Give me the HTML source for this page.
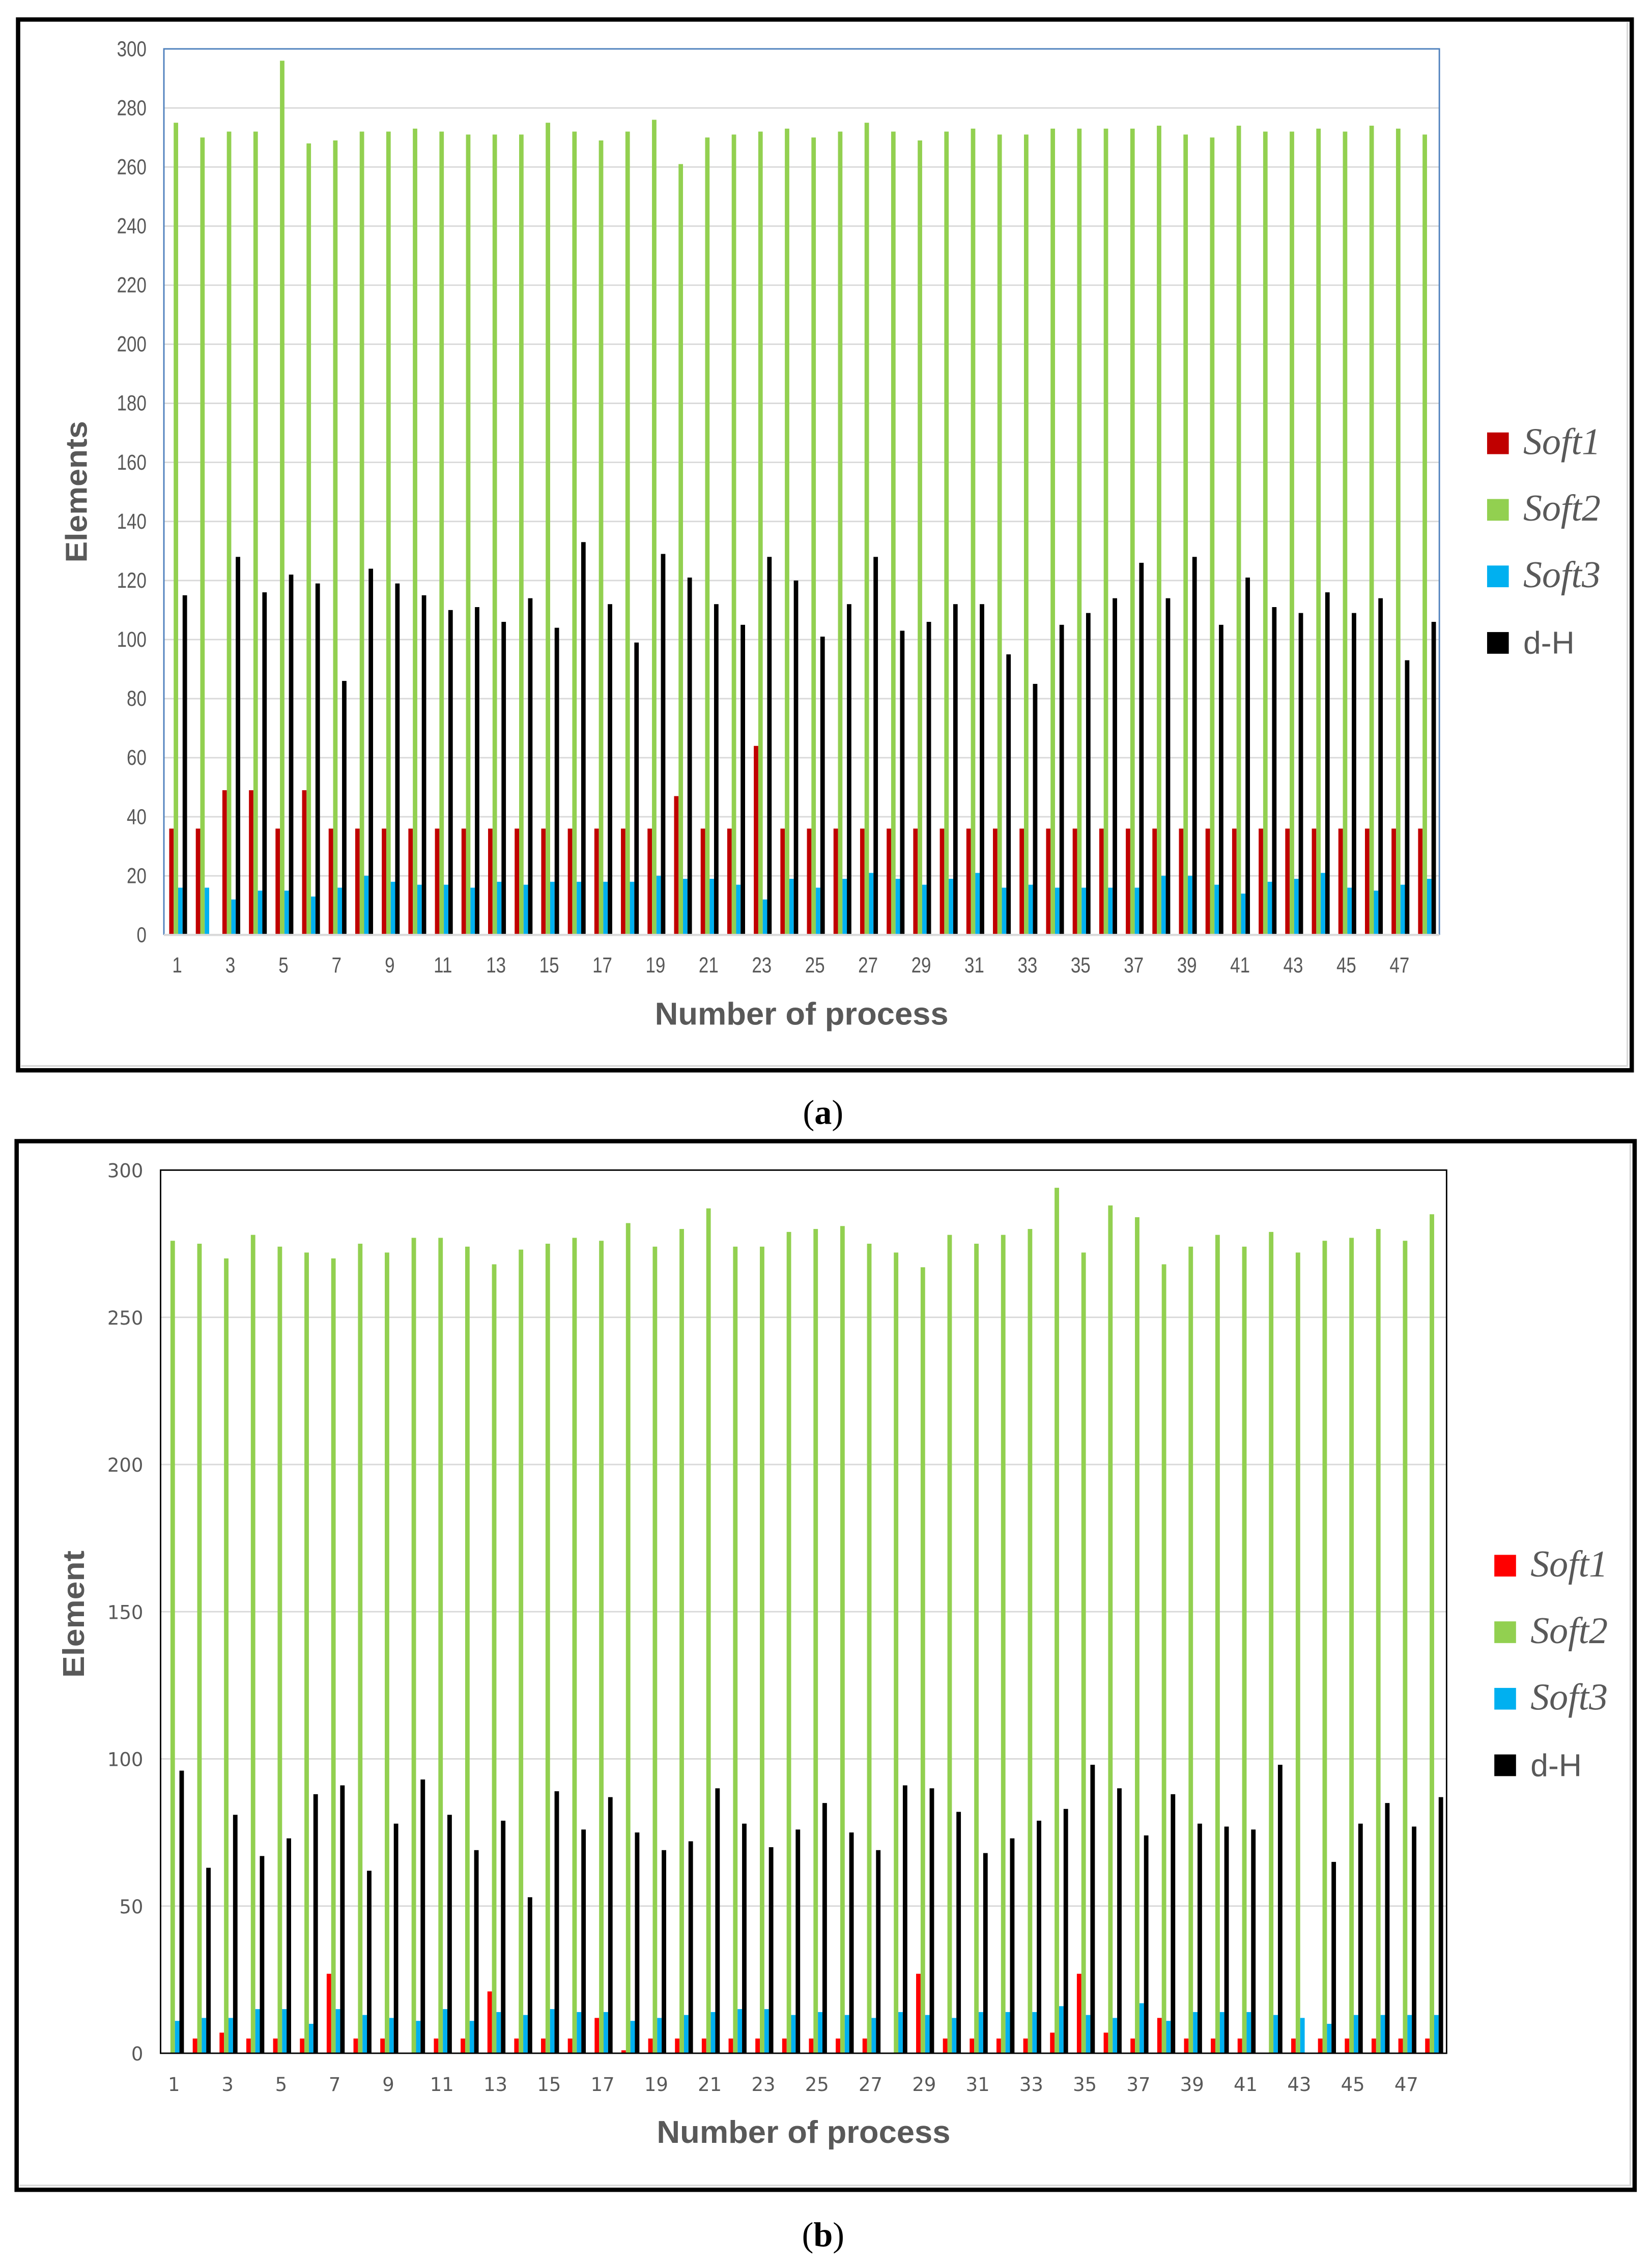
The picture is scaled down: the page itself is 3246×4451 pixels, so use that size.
<!DOCTYPE html>
<html><head><meta charset="utf-8"><style>
html,body{margin:0;padding:0;background:#fff;}
svg{display:block;}
</style></head><body>
<svg id="fig" xmlns="http://www.w3.org/2000/svg" width="3246" height="4451" viewBox="0 0 1142 1566" preserveAspectRatio="none">
<rect x="0" y="0" width="1142" height="1566" fill="#fff"/>
<g id="chartA"></g>
<g id="chartB"></g>
</svg>
<script>
// ---- Chart (a) data ----
const categoriesA = Array.from({length:48},(_,i)=>i+1);
const soft1A = [36,36,49,49,36,49,36,36,36,36,36,36,36,36,36,36,36,36,36,47,36,36,64,36,36,36,36,36,36,36,36,36,36,36,36,36,36,36,36,36,36,36,36,36,36,36,36,36];
const soft2A = [275,270,272,272,296,268,269,272,272,273,272,271,271,271,275,272,269,272,276,261,270,271,272,273,270,272,275,272,269,272,273,271,271,273,273,273,273,274,271,270,274,272,272,273,272,274,273,271];
const soft3A = [16,16,12,15,15,13,16,20,18,17,17,16,18,17,18,18,18,18,20,19,19,17,12,19,16,19,21,19,17,19,21,16,17,16,16,16,16,20,20,17,14,18,19,21,16,15,17,19];
const dhA = [115,0,128,116,122,119,86,124,119,115,110,111,106,114,104,133,112,99,129,121,112,105,128,120,101,112,128,103,106,112,112,95,85,105,109,114,126,114,128,105,121,111,109,116,109,114,93,106];
const yTicksA = [0,20,40,60,80,100,120,140,160,180,200,220,240,260,280,300];
// ---- Chart (b) data ----
const categoriesB = Array.from({length:48},(_,i)=>i+1);
const soft1B = [0,5,7,5,5,5,27,5,5,0,5,5,21,5,5,5,12,1,5,5,5,5,5,5,5,5,5,0,27,5,5,5,5,7,27,7,5,12,5,5,5,0,5,5,5,5,5,5];
const soft2B = [276,275,270,278,274,272,270,275,272,277,277,274,268,273,275,277,276,282,274,280,287,274,274,279,280,281,275,272,267,278,275,278,280,294,272,288,284,268,274,278,274,279,272,276,277,280,276,285];
const soft3B = [11,12,12,15,15,10,15,13,12,11,15,11,14,13,15,14,14,11,12,13,14,15,15,13,14,13,12,14,13,12,14,14,14,16,13,12,17,11,14,14,14,13,12,10,13,13,13,13];
const dhB = [96,63,81,67,73,88,91,62,78,93,81,69,79,53,89,76,87,75,69,72,90,78,70,76,85,75,69,91,90,82,68,73,79,83,98,90,74,88,78,77,76,98,0,65,78,85,77,87];
const yTicksB = [0,50,100,150,200,250,300];
const seriesNames = ["Soft1","Soft2","Soft3","d-H"];

const NS="http://www.w3.org/2000/svg";
function mk(parent,tag,attrs,text){const e=document.createElementNS(NS,tag);for(const k in attrs)e.setAttribute(k,attrs[k]);if(text!==undefined)e.textContent=text;parent.appendChild(e);return e;}

function drawChart(g,cfg){
  const {frame,plot,ymax,ticks,cats,series,colors,ytitle,legendY,legendX,caption,plotBorder,tickFont} = cfg;
  const fr = mk(g,'rect',{x:frame[0],y:frame[1],width:frame[2]-frame[0],height:frame[3]-frame[1],fill:'none',stroke:'#000','stroke-width':3});
  
  
  const inner = mk(g,'polyline',{points:`${frame[2]-3},${frame[1]+2} ${frame[2]-3},${frame[3]-3} ${frame[0]+2},${frame[3]-3}`,fill:'none',stroke:'#d9d9d9','stroke-width':1.2});
  
  
  const [L,T,R,B] = plot;
  const yS = v => B - (v/ymax)*(B-T);
  const cw = (R-L)/cats.length;
  const xC = i => L + i*cw;
  // gridlines & y tick labels
  ticks.forEach(t=>{
    if(t>0 && t<ymax){
      const gl = mk(g,'line',{x1:L,x2:R,y1:yS(t),y2:yS(t),stroke:'#d9d9d9','stroke-width':1});
      
      
    }
    const tl = mk(g,'text',{x:L-12,y:yS(t)+5,'text-anchor':'end','font-family':tickFont.family,'font-size':tickFont.size,fill:'#595959',transform:tickFont.sx?`translate(${L-12},0) scale(${tickFont.sx},1) translate(${-(L-12)},0)`:''},String(t));
    
    
  });
  // bars
  const bw = cw*0.168, off = cw*0.2;
  series.forEach((vals,s)=>{
    vals.forEach((v,i)=>{
      if(v<=0) return;
      const r = mk(g,'rect',{x:xC(i)+off+s*bw,y:yS(v),width:bw,height:B-yS(v),fill:colors[s]});
      
      
    });
  });
  // axes/border
  if(plotBorder==='blue'){
    const pb = mk(g,'polyline',{points:`${L},${B} ${L},${T} ${R},${T} ${R},${B}`,fill:'none',stroke:'#4f81bd','stroke-width':1});
    
    
    const xa = mk(g,'line',{x1:L,x2:R,y1:B,y2:B,stroke:'#d9d9d9','stroke-width':1.5});
    
    
  } else {
    const pb = mk(g,'rect',{x:L,y:T,width:R-L,height:B-T,fill:'none',stroke:'#000','stroke-width':1});
    
    
  }
  // x tick labels
  cats.forEach((c,i)=>{
    if(c%2===0) return;
    const cx = xC(i)+cw/2;
    const xl = mk(g,'text',{x:cx,y:B+26,'text-anchor':'middle','font-family':tickFont.family,'font-size':tickFont.size,fill:'#595959',transform:tickFont.sx?`translate(${cx},0) scale(${tickFont.sx},1) translate(${-cx},0)`:''},String(c));
    
    
  });
  // axis titles
  const xt = mk(g,'text',{x:(L+R)/2,y:B+62,'text-anchor':'middle','font-family':'Liberation Sans, sans-serif','font-size':22,'font-weight':'bold',fill:'#595959',textLength:203,lengthAdjust:'spacingAndGlyphs'},'Number of process');
  
  
  const yt = mk(g,'text',{x:0,y:0,'text-anchor':'middle','font-family':'Liberation Sans, sans-serif','font-size':21,'font-weight':'bold',fill:'#595959',transform:`translate(${ytitle[0]},${ytitle[1]}) rotate(-90)`,textLength:ytitle[2],lengthAdjust:'spacingAndGlyphs'},cfg.ytitleText);
  
  
  // legend
  seriesNames.forEach((n,s)=>{
    const y0 = legendY + s*46;
    const sq = mk(g,'rect',{x:legendX,y:y0,width:15,height:15,fill:colors[s]});
    
    
    const isSoft = n!=='d-H';
    const lt = mk(g,'text',{x:legendX+25,y:y0+15,'font-family':isSoft?'Liberation Serif, serif':'Liberation Sans, sans-serif','font-style':isSoft?'italic':'normal','font-size':isSoft?26:22,fill:'#595959'},n);
    
    
  });
  const cap = mk(g,'text',{x:caption[0],y:caption[1],'text-anchor':'middle','font-family':'Liberation Serif, serif','font-size':24,fill:'#000'},'');
  const t1 = mk(cap,'tspan',{},'(');
  const t2 = mk(cap,'tspan',{'font-weight':'bold'},caption[2]);
  const t3 = mk(cap,'tspan',{},')');
  
  
}

drawChart(document.getElementById('chartA'),{
  frame:[12.5,13.5,1128,740],
  plot:[113.3,33.8,995,646.4],
  ymax:300, ticks:yTicksA, cats:categoriesA,
  series:[soft1A,soft2A,soft3A,dhA],
  colors:['#c00000','#92d050','#00b0f0','#000000'],
  ytitleText:'Elements', ytitle:[60,340,98],
  legendX:1028, legendY:299,
  caption:[569,777,'a'], plotBorder:'blue',
  tickFont:{family:'Liberation Sans, sans-serif',size:15,sx:0.82}
});
drawChart(document.getElementById('chartB'),{
  frame:[11.5,789,1130,1514],
  plot:[111,809,1000,1419.6],
  ymax:300, ticks:yTicksB, cats:categoriesB,
  series:[soft1B,soft2B,soft3B,dhB],
  colors:['#ff0000','#92d050','#00b0f0','#000000'],
  ytitleText:'Element', ytitle:[58,1116,88],
  legendX:1033, legendY:1075,
  caption:[569,1553,'b'], plotBorder:'black',
  tickFont:{family:'DejaVu Sans, sans-serif',size:13,sx:1}
});
</script>
</body></html>
